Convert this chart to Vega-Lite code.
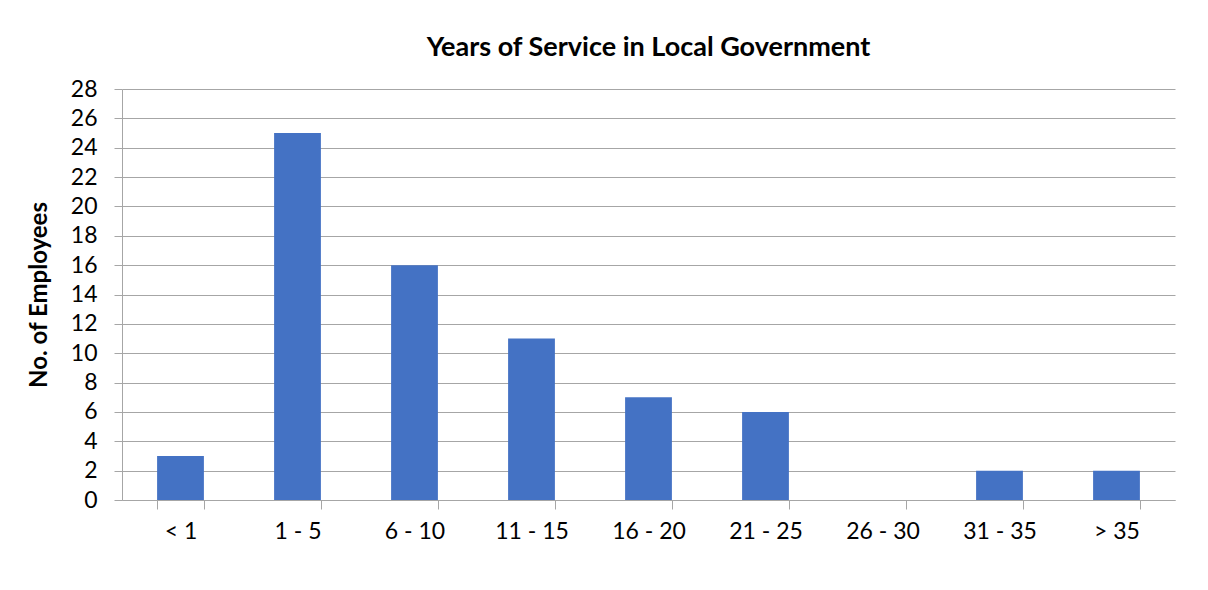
{
  "$schema": "https://vega.github.io/schema/vega-lite/v6.json",
  "width": 1053,
  "height": 411,
  "autosize": {"type": "none"},
  "padding": {"left": 122, "top": 89, "right": 33, "bottom": 90},
  "background": "white",
  "title": {
    "text": "Years of Service in Local Government",
    "font": "Lato",
    "fontSize": 27,
    "fontWeight": "bold",
    "color": "#000000",
    "anchor": "middle",
    "offset": 16
  },
  "data": {
    "values": [
      {"range": "< 1", "count": 3},
      {"range": "1 - 5", "count": 25},
      {"range": "6 - 10", "count": 16},
      {"range": "11 - 15", "count": 11},
      {"range": "16 - 20", "count": 7},
      {"range": "21 - 25", "count": 6},
      {"range": "26 - 30", "count": 0},
      {"range": "31 - 35", "count": 2},
      {"range": "> 35", "count": 2}
    ]
  },
  "mark": {"type": "bar", "color": "#4472C4"},
  "encoding": {
    "x": {
      "field": "range",
      "type": "nominal",
      "sort": null,
      "scale": {"paddingInner": 0.6, "paddingOuter": 0.3},
      "axis": {
        "title": null,
        "labelAngle": 0,
        "labelFont": "Lato",
        "labelFontSize": 23,
        "labelColor": "#000000",
        "labelPadding": 11,
        "tickBand": "extent",
        "tickSize": 9,
        "tickColor": "#a6a6a6",
        "domainColor": "#a6a6a6",
        "grid": false
      }
    },
    "y": {
      "field": "count",
      "type": "quantitative",
      "scale": {"domain": [0, 28]},
      "axis": {
        "title": "No. of Employees",
        "titleFont": "Lato",
        "titleFontSize": 24,
        "titleFontWeight": "bold",
        "titleColor": "#000000",
        "titlePadding": 19,
        "values": [0, 2, 4, 6, 8, 10, 12, 14, 16, 18, 20, 22, 24, 26, 28],
        "labelFont": "Lato",
        "labelFontSize": 23,
        "labelColor": "#000000",
        "labelPadding": 17,
        "tickSize": 8,
        "tickColor": "#a6a6a6",
        "domainColor": "#a6a6a6",
        "grid": true,
        "gridColor": "#a6a6a6",
        "gridWidth": 1
      }
    }
  },
  "config": {
    "view": {"stroke": null}
  }
}
